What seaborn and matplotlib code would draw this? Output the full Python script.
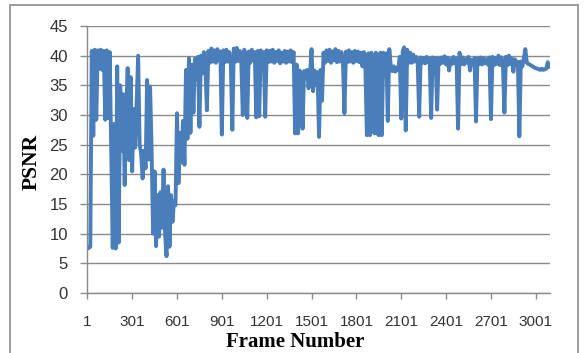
import numpy as np
import matplotlib
matplotlib.use("Agg")
import matplotlib.pyplot as plt
from matplotlib.patches import Rectangle
import seaborn as sns

frames = list(range(1, 3092, 10))
psnr = [
    7.5, 7.6, 7.8, 40.8, 26.5, 41.0, 29.2, 40.9, 37.8, 41.0,
    37.6, 40.8, 29.2, 40.9, 29.5, 40.6, 24.0, 7.6, 28.5, 7.5,
    38.2, 8.5, 35.0, 24.0, 33.5, 18.2, 30.0, 37.9, 22.4, 36.4,
    20.5, 31.0, 24.5, 32.0, 40.0, 25.0, 23.5, 19.3, 24.0, 21.0,
    35.9, 22.5, 34.8, 24.5, 10.0, 20.5, 7.9, 16.5, 9.5, 17.0,
    11.0, 20.8, 10.0, 6.2, 18.0, 7.8, 16.5, 12.0, 15.5, 14.8,
    30.3, 18.5, 27.0, 22.0, 29.0, 21.6, 37.6, 26.0, 39.6, 27.0,
    38.5, 30.4, 39.5, 36.0, 39.8, 28.0, 40.0, 37.0, 40.6, 38.0,
    30.8, 40.8, 38.8, 41.2, 39.0, 40.9, 38.8, 41.1, 39.2, 40.7,
    26.7, 40.9, 38.9, 41.0, 39.0, 40.6, 38.7, 27.5, 41.2, 39.0,
    41.3, 39.1, 40.8, 38.9, 30.0, 41.0, 39.0, 29.5, 40.7, 38.8,
    41.0, 39.2, 40.6, 29.6, 40.8, 29.8, 40.9, 39.0, 40.6, 29.7,
    40.9, 38.9, 40.8, 39.0, 41.0, 38.8, 40.6, 39.1, 40.9, 38.7,
    40.5, 39.0, 40.8, 38.8, 40.7, 39.0, 40.9, 38.9, 40.6, 26.9,
    38.5, 26.9, 37.5, 36.2, 27.7, 37.4, 36.3, 37.6, 34.5, 37.0,
    41.1, 34.0, 37.5, 35.0, 37.2, 26.3, 37.6, 32.4, 40.5, 38.8,
    40.9, 39.1, 41.0, 38.8, 40.7, 39.2, 41.1, 38.9, 40.8, 39.0,
    40.6, 38.8, 30.3, 40.7, 38.9, 40.9, 39.0, 40.6, 38.8, 40.8,
    39.1, 40.7, 38.9, 40.5, 38.2, 40.6, 38.0, 26.6, 40.4, 26.6,
    40.5, 38.6, 26.9, 40.5, 26.9, 26.6, 40.5, 26.6, 40.5, 38.0,
    40.4, 29.0, 41.1, 38.3, 37.4, 38.2, 37.3, 38.0, 37.6, 39.8,
    29.4, 40.8, 41.4, 27.4, 41.0, 38.8, 40.5, 38.8, 40.2, 39.0,
    39.8, 38.8, 29.7, 39.7, 38.8, 39.6, 38.7, 39.8, 38.9, 39.5,
    29.5, 39.7, 38.8, 39.6, 30.9, 39.5, 38.6, 39.7, 38.8, 39.9,
    38.5, 39.6, 37.5, 39.4, 38.6, 39.8, 38.7, 39.5, 27.7, 40.5,
    38.6, 39.7, 38.5, 39.4, 38.8, 39.8, 37.5, 39.3, 38.6, 39.6,
    28.9, 39.5, 38.6, 39.7, 38.5, 39.6, 38.7, 39.4, 38.5, 39.7,
    29.3, 39.8, 38.4, 39.6, 38.6, 40.0, 38.4, 39.7, 38.5, 30.4,
    39.8, 38.4, 40.0, 38.6, 39.5, 37.3, 39.4, 38.4, 39.0, 26.4,
    39.0, 38.2, 39.5, 41.1, 38.8, 38.6, 38.5, 38.3, 38.2, 38.0,
    37.9, 37.8, 37.7, 37.6, 37.8, 37.6, 37.7, 37.8, 38.9, 38.1,
]
x_ticks = list(range(1, 3002, 300))
y_ticks = list(range(0, 46, 5))

sns.set_theme(style="white")
plt.rcParams['font.family'] = ['Liberation Sans', 'DejaVu Sans']

fig = plt.figure(figsize=(5.85, 3.53), dpi=100)
ax = fig.add_axes([87.3 / 585, 60 / 353, (550 - 87.3) / 585, 267 / 353])

sns.lineplot(x=frames, y=psnr, ax=ax, color='#4a7ebb', lw=2.8,
             estimator=None, solid_joinstyle='round', solid_capstyle='round')

ax.set_xlim(1, 3096)
ax.set_ylim(0, 45)
ax.set_xticks(x_ticks)
ax.set_yticks(y_ticks)
ax.yaxis.grid(True, color='#8a8a8a', lw=1)
ax.set_axisbelow(True)

for side in ['top', 'right']:
    ax.spines[side].set_visible(False)
for side in ['left', 'bottom']:
    ax.spines[side].set_color('#8a8a8a')
    ax.spines[side].set_linewidth(1)

ax.tick_params(axis='y', left=True, length=5, width=1, color='#8a8a8a',
               pad=9, labelsize=12, labelcolor='#333333')
ax.tick_params(axis='x', bottom=True, length=4, width=1, color='#8a8a8a',
               pad=12, labelsize=11, labelcolor='#333333')

ax.set_xlabel('Frame Number', fontsize=15, fontweight='bold',
              family='Liberation Serif', color='black')
ax.xaxis.label.set_va('center')
ax.xaxis.set_label_coords((295 - 87.3) / 462.7, (293 - 342) / 267)
ax.set_ylabel('PSNR', fontsize=15.5, fontweight='bold',
              family='Liberation Serif', color='black')
ax.yaxis.label.set_va('center')
ax.yaxis.set_label_coords((31.5 - 87.3) / 462.7, (293 - 162) / 267)

# gray chart frame (bottom edge lies off the image)
fig.patches.append(Rectangle((9.5 / 585, -0.05), (578 - 9.5) / 585, 1 - 5 / 353 + 0.05,
                             transform=fig.transFigure, fill=False,
                             edgecolor='#8c8c8c', lw=1.2))

fig.savefig('out.png', dpi=100)
